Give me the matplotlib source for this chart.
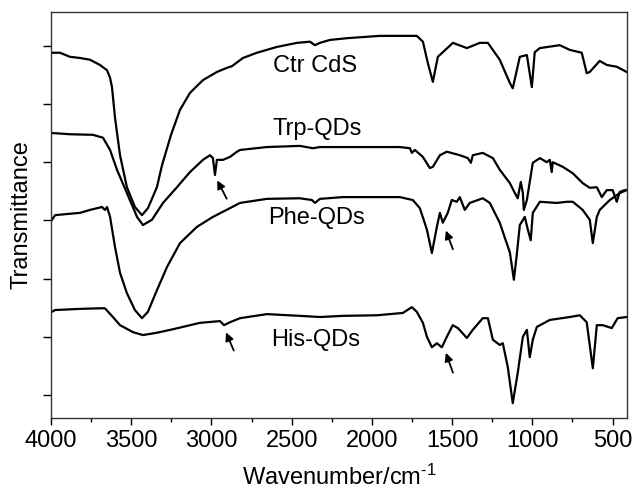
import matplotlib
matplotlib.use("Agg")
import matplotlib.pyplot as plt
from matplotlib.ticker import MultipleLocator

plt.rcParams['font.family'] = ['Liberation Sans', 'DejaVu Sans']
plt.rcParams['mathtext.default'] = 'regular'

# FTIR spectra, wavenumber (cm-1) vs transmittance (offset, a.u.)
ctr_wn = [3988, 3944, 3882, 3819, 3757, 3695, 3651, 3632, 3620, 3601, 3570, 3527, 3477, 3433,
          3396, 3340, 3308, 3252, 3196, 3134, 3053, 2966, 2904, 2872, 2804, 2717, 2592, 2467,
          2386, 2355, 2324, 2262, 2156, 1950, 1720, 1682, 1651, 1620, 1589, 1495, 1408, 1327,
          1277, 1203, 1140, 1122, 1078, 1034, 1003, 985, 953, 829, 767, 692, 661, 642, 580,
          536, 474, 412]
ctr_t = [58.8, 58.8, 58.1, 57.9, 57.6, 56.7, 55.8, 54.5, 52.9, 47.6, 41.2, 35.7, 32.3, 30.9,
         32.1, 35.7, 39.5, 44.7, 49.0, 51.9, 54.1, 55.5, 56.2, 56.5, 57.9, 58.8, 59.8, 60.5,
         60.7, 60.1, 60.5, 61.0, 61.3, 61.7, 61.7, 60.7, 57.0, 53.8, 58.1, 60.5, 59.6, 60.5,
         60.5, 57.6, 53.6, 52.7, 58.1, 58.4, 52.9, 58.9, 59.6, 60.1, 59.3, 58.8, 55.3, 55.5,
         57.4, 56.7, 56.4, 55.5]

trp_wn = [3988, 3882, 3738, 3676, 3632, 3589, 3527, 3464, 3427, 3371, 3302, 3215, 3134, 3053,
          3009, 2991, 2978, 2966, 2928, 2885, 2841, 2822, 2654, 2449, 2368, 2324, 2075, 1826,
          1763, 1751, 1732, 1682, 1639, 1620, 1576, 1533, 1452, 1402, 1383, 1371, 1309, 1246,
          1203, 1140, 1109, 1091, 1072, 1059, 1053, 1034, 997, 953, 910, 891, 879, 873, 810,
          748, 686, 642, 598, 567, 536, 499, 474, 455, 424]
trp_t = [45.0, 44.8, 44.7, 44.2, 42.1, 38.7, 34.7, 30.6, 29.2, 30.1, 33.0, 35.7, 38.3, 40.4,
         41.2, 40.7, 37.8, 40.4, 40.4, 40.9, 41.8, 42.1, 42.6, 42.8, 42.4, 42.6, 42.6, 42.6,
         42.4, 41.6, 42.1, 40.9, 39.0, 39.2, 41.2, 41.8, 41.2, 40.7, 39.9, 41.2, 41.6, 40.7,
         38.7, 36.4, 34.7, 33.8, 36.6, 34.7, 31.8, 33.5, 39.9, 40.7, 40.0, 40.4, 38.3, 40.0,
         39.2, 38.1, 36.4, 35.6, 35.7, 34.0, 35.2, 35.2, 33.2, 34.9, 35.2]

phe_wn = [3994, 3975, 3819, 3757, 3713, 3682, 3664, 3651, 3632, 3601, 3570, 3527, 3477, 3433,
          3396, 3340, 3277, 3196, 3090, 2991, 2885, 2822, 2654, 2449, 2374, 2355, 2324, 2181,
          1826, 1745, 1701, 1657, 1626, 1595, 1576, 1558, 1527, 1502, 1471, 1452, 1421, 1390,
          1309, 1265, 1203, 1165, 1140, 1115, 1097, 1078, 1047, 1028, 1010, 997, 953, 848,
          785, 748, 686, 642, 623, 598, 580, 517, 455, 412]
phe_t = [30.1, 30.9, 31.3, 31.8, 32.1, 32.3, 31.8, 32.3, 30.6, 25.4, 21.0, 17.5, 14.6, 13.2,
         14.3, 18.0, 22.0, 26.1, 28.9, 30.6, 32.1, 33.0, 33.7, 33.8, 33.5, 33.0, 33.7, 34.0,
         34.0, 33.5, 32.1, 28.4, 24.4, 28.9, 31.3, 29.6, 31.3, 33.5, 33.2, 34.0, 31.8, 33.0,
         33.8, 33.0, 29.6, 26.5, 24.5, 19.8, 24.1, 29.2, 30.6, 28.4, 26.6, 31.3, 33.2, 33.0,
         33.2, 33.2, 31.8, 30.1, 26.1, 30.6, 31.8, 33.5, 34.7, 35.2]

his_wn = [3994, 3975, 3819, 3695, 3664, 3614, 3570, 3489, 3427, 3340, 3240, 3072, 2947, 2922,
          2885, 2822, 2654, 2449, 2324, 2181, 1969, 1807, 1751, 1720, 1682, 1657, 1626, 1595,
          1564, 1533, 1496, 1464, 1408, 1371, 1309, 1277, 1246, 1203, 1184, 1153, 1122, 1091,
          1059, 1034, 1016, 997, 972, 891, 767, 704, 661, 623, 598, 561, 505, 468, 412]
his_t = [14.3, 14.6, 14.8, 14.9, 14.9, 13.4, 12.0, 10.8, 10.3, 10.7, 11.3, 12.4, 12.7, 12.0,
         12.5, 13.2, 13.9, 13.6, 13.4, 13.6, 13.7, 14.1, 15.1, 14.3, 12.4, 10.0, 8.2, 8.9,
         8.2, 10.0, 12.0, 11.5, 9.8, 11.2, 13.2, 13.2, 9.5, 8.6, 8.9, 4.8, -1.4, 3.8,
         10.0, 11.2, 6.5, 9.5, 11.7, 12.9, 13.4, 13.7, 12.5, 4.6, 12.0, 12.0, 11.5, 13.2, 13.4]

labels = ["Ctr CdS", "Trp-QDs", "Phe-QDs", "His-QDs"]
label_pos = [(2355, 56.5), (2343, 45.7), (2343, 30.4), (2349, 9.5)]

# arrows: (head, tail)
arrows = [((2972, 37.3), (2897, 33.3)),
          ((1545, 28.7), (1489, 24.6)),
          ((2916, 11.2), (2854, 7.2)),
          ((1545, 7.7), (1489, 3.4))]

fig = plt.figure(figsize=(6.33, 4.90), dpi=100)
ax = fig.add_axes([0.0806, 0.1469, 0.9099, 0.8286])

for wn, t in [(ctr_wn, ctr_t), (trp_wn, trp_t), (phe_wn, phe_t), (his_wn, his_t)]:
    ax.plot(wn, t, color="black", lw=1.6, solid_joinstyle="round")

for lab, (x, y) in zip(labels, label_pos):
    ax.text(x, y, lab, fontsize=17, ha="center", va="center")

for head, tail in arrows:
    ax.annotate("", xy=head, xytext=tail,
                arrowprops=dict(arrowstyle="-|>", color="black", lw=1.3, mutation_scale=12))

ax.set_xlim(4000, 410)
ax.set_ylim(-3.95, 65.8)
ax.xaxis.set_major_locator(MultipleLocator(500))
ax.xaxis.set_minor_locator(MultipleLocator(250))
ax.yaxis.set_major_locator(MultipleLocator(10))
ax.set_yticklabels([])
ax.tick_params(axis="x", which="major", direction="out", length=5, width=1, labelsize=17)
ax.tick_params(axis="y", which="major", direction="out", length=6, width=1)
ax.tick_params(axis="x", which="minor", direction="out", length=3, width=1)
for s in ax.spines.values():
    s.set_linewidth(1.0)
    s.set_color("#333333")

ax.set_xlabel("Wavenumber/cm$^{\u20101}$", fontsize=17, labelpad=9)
ax.set_ylabel("Transmittance", fontsize=17, labelpad=4)

fig.savefig("out.png", dpi=100)
